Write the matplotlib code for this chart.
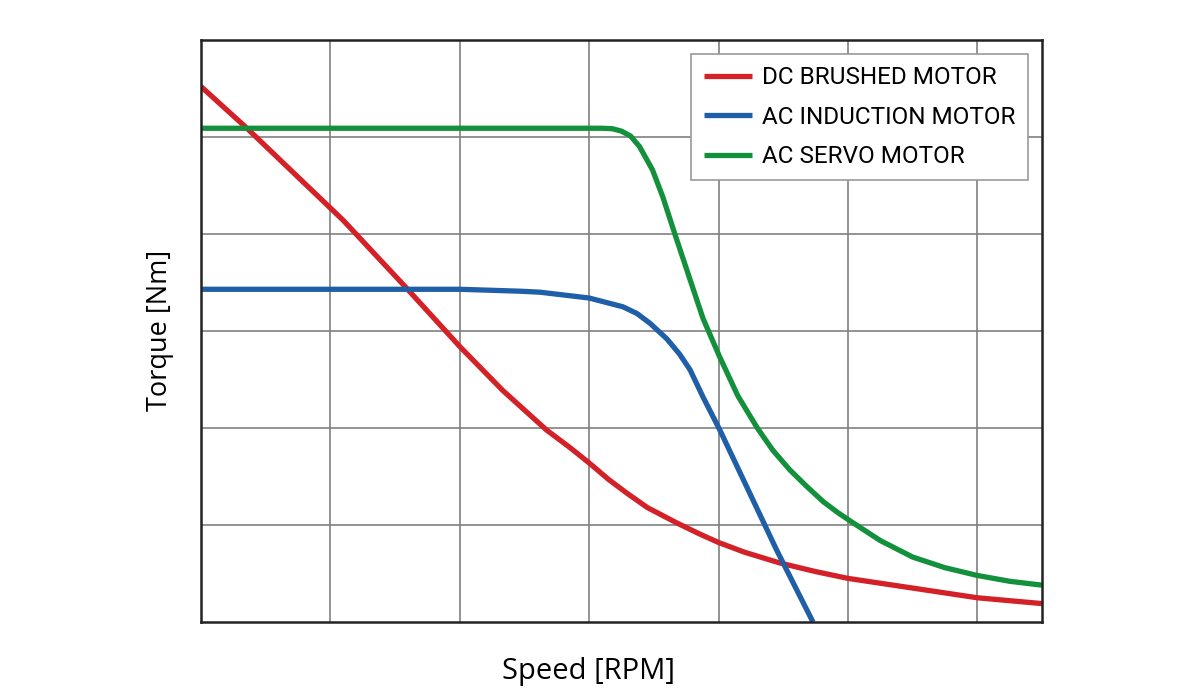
import numpy as np
import matplotlib.pyplot as plt

# torque curves (speed and torque in grid units)
dc_speed = [0, 0.355, 1.10, 1.59, 2.0, 2.33, 2.67, 2.85, 3.0, 3.15, 3.29, 3.45, 3.68, 3.85,
            4.0, 4.2, 4.47, 4.75, 5.0, 5.25, 5.5, 5.75, 6.0, 6.25, 6.5]
dc_torque = [5.52, 5.09, 4.14, 3.44, 2.84, 2.39, 1.98, 1.80, 1.64, 1.47, 1.33, 1.18, 1.02, 0.91,
             0.82, 0.72, 0.61, 0.52, 0.45, 0.40, 0.35, 0.30, 0.25, 0.22, 0.19]

ind_speed = [0, 1.5, 2.0, 2.47, 2.62, 3.0, 3.26, 3.37, 3.47, 3.60, 3.70, 3.78, 3.88, 4.01,
             4.45, 4.73]
ind_torque = [3.43, 3.43, 3.43, 3.41, 3.40, 3.34, 3.25, 3.18, 3.08, 2.92, 2.76, 2.60, 2.32, 1.98,
              0.74, 0.0]

servo_speed = [0, 3.10, 3.18, 3.25, 3.32, 3.39, 3.49, 3.57, 3.66, 3.78, 3.88, 4.01, 4.15, 4.30,
               4.42, 4.55, 4.68, 4.81, 4.92, 5.02, 5.25, 5.5, 5.75, 6.0, 6.25, 6.5]
servo_torque = [5.09, 5.09, 5.085, 5.06, 5.01, 4.90, 4.66, 4.38, 4.01, 3.53, 3.13, 2.73, 2.33,
                2.00, 1.77, 1.57, 1.40, 1.24, 1.13, 1.04, 0.84, 0.67, 0.56, 0.48, 0.42, 0.38]

labels = ['DC BRUSHED MOTOR', 'AC INDUCTION MOTOR', 'AC SERVO MOTOR']
colors = ['#d42027', '#1f5fa8', '#13903c']

fig = plt.figure(figsize=(12, 7), dpi=100)
ax = fig.add_axes([0.1675, 0.1114, 0.7008, 0.8315])

series = [(dc_speed, dc_torque), (ind_speed, ind_torque), (servo_speed, servo_torque)]
for (xs, ys), lab, c in zip(series, labels, colors):
    ax.plot(xs, ys, color=c, lw=3.8, label=lab, solid_joinstyle='round', solid_capstyle='butt')

ax.set_xlim(0, 6.5)
ax.set_ylim(0, 6)
ax.set_xticks(np.arange(1, 7))
ax.set_yticks(np.arange(1, 6))
ax.tick_params(length=0, labelleft=False, labelbottom=False)
ax.grid(True, color='#808080', lw=1.2)
ax.set_axisbelow(True)
for sp in ax.spines.values():
    sp.set_linewidth(1.8)
    sp.set_color('#222222')

fig.text(589 / 1200, 1 - 672 / 700, 'Speed [RPM]', fontsize=21, family='Open Sans',
         ha='center', va='center')
fig.text(160 / 1200, 1 - 330 / 700, 'Torque [Nm]', fontsize=19.5, family='Open Sans',
         ha='center', va='center', rotation=90)

leg = ax.legend(loc='upper right', bbox_to_anchor=(0.9834, 0.976), borderaxespad=0,
                fancybox=False, framealpha=1, edgecolor='#999999', handlelength=2.0,
                handletextpad=0.42, borderpad=0.5, labelspacing=0.68,
                prop={'family': 'Roboto', 'size': 17.5})
leg.get_frame().set_linewidth(1.2)

fig.savefig('out.png', dpi=100, facecolor='white')
